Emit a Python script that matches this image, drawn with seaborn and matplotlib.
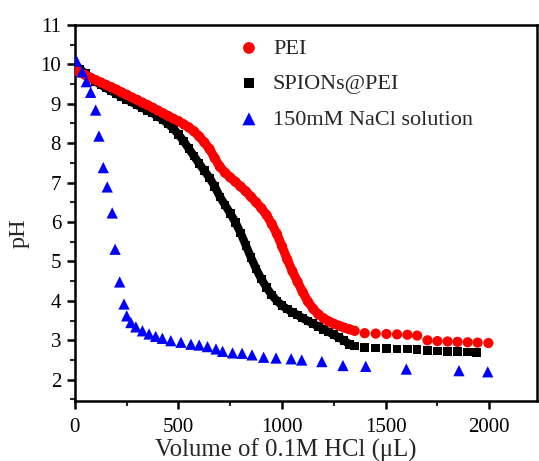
import matplotlib
matplotlib.use("Agg")
import matplotlib.pyplot as plt
from matplotlib.ticker import MultipleLocator
import seaborn as sns
import pandas as pd

# ---- data ----
# PEI: densely sampled part (drawn as a continuous band of markers) ...
pei_dense_x = [0, 25, 50, 75, 100, 125, 150, 175, 200, 225, 250, 275, 300, 325, 350, 375,
               400, 425, 450, 475, 500, 525, 550, 575, 600, 625, 650, 675, 700, 725, 750,
               775, 800, 825, 850, 875, 900, 925, 950, 975, 1000, 1025, 1050, 1075, 1100,
               1125, 1150, 1175, 1200, 1225, 1250, 1275, 1300, 1325, 1350]
pei_dense_y = [9.85, 9.79, 9.73, 9.66, 9.60, 9.54, 9.48, 9.42, 9.36, 9.29, 9.23, 9.16, 9.10,
               9.03, 8.97, 8.90, 8.83, 8.76, 8.69, 8.62, 8.56, 8.48, 8.40, 8.30, 8.17, 8.02,
               7.85, 7.62, 7.40, 7.25, 7.13, 7.02, 6.90, 6.78, 6.64, 6.50, 6.35, 6.18, 5.95,
               5.70, 5.38, 5.05, 4.75, 4.48, 4.22, 3.98, 3.80, 3.66, 3.56, 3.48, 3.42, 3.37,
               3.32, 3.28, 3.24]
# ... and separated points at the end
pei_sparse_x = [1399, 1452, 1504, 1555, 1605, 1652, 1702, 1750, 1799, 1847, 1896, 1944, 1996]
pei_sparse_y = [3.18, 3.17, 3.16, 3.15, 3.14, 3.12, 3.00, 2.98, 2.97, 2.96, 2.95, 2.94, 2.93]

spions_dense_x = [0, 25, 50, 75, 100, 125, 150, 175, 200, 225, 250, 275, 300, 325, 350, 375,
                  400, 425, 450, 475, 500, 525, 550, 575, 600, 625, 650, 675, 700, 725, 750,
                  775, 800, 825, 850, 875, 900, 925, 950, 975, 1000, 1025, 1050, 1075, 1100,
                  1125, 1150, 1175, 1200, 1225, 1250, 1275, 1300, 1325]
spions_dense_y = [10.00, 9.88, 9.76, 9.65, 9.56, 9.48, 9.40, 9.33, 9.25, 9.18, 9.11, 9.04,
                  8.97, 8.90, 8.83, 8.76, 8.68, 8.59, 8.49, 8.37, 8.22, 8.05, 7.86, 7.67, 7.48,
                  7.30, 7.12, 6.90, 6.64, 6.43, 6.22, 5.99, 5.72, 5.41, 5.10, 4.81, 4.55, 4.34,
                  4.15, 4.00, 3.88, 3.79, 3.71, 3.64, 3.56, 3.49, 3.42, 3.35, 3.28, 3.21, 3.14,
                  3.07, 2.99, 2.90]
spions_sparse_x = [1350, 1399, 1452, 1504, 1555, 1605, 1652, 1702, 1750, 1799, 1847, 1896, 1940]
spions_sparse_y = [2.85, 2.82, 2.80, 2.79, 2.78, 2.78, 2.76, 2.74, 2.73, 2.72, 2.72, 2.70, 2.69]

nacl_x = [8, 35, 55, 76, 100, 116, 137, 156, 180, 194, 216, 237, 250, 270, 294, 326,
          358, 390, 422, 463, 512, 560, 600, 640, 681, 713, 761, 807, 855, 911, 971,
          1044, 1095, 1192, 1294, 1404, 1600, 1854, 1993]
nacl_y = [10.08, 9.81, 9.56, 9.29, 8.84, 8.18, 7.38, 6.89, 6.23, 5.31, 4.48, 3.92,
          3.62, 3.45, 3.34, 3.24, 3.16, 3.10, 3.05, 2.99, 2.95, 2.90, 2.88, 2.84, 2.78,
          2.72, 2.68, 2.67, 2.63, 2.57, 2.55, 2.53, 2.50, 2.46, 2.36, 2.34, 2.27, 2.23,
          2.20]

labels = ["PEI", "SPIONs@PEI", "150mM NaCl solution"]
x_label = "Volume of 0.1M HCl (\u03bcL)"
y_label = "pH"

pei_dense = pd.DataFrame({"x": pei_dense_x, "y": pei_dense_y})
pei_all = pd.DataFrame({"x": pei_dense_x + pei_sparse_x, "y": pei_dense_y + pei_sparse_y})
sp_dense = pd.DataFrame({"x": spions_dense_x, "y": spions_dense_y})
sp_all = pd.DataFrame({"x": spions_dense_x + spions_sparse_x,
                       "y": spions_dense_y + spions_sparse_y})
nacl = pd.DataFrame({"x": nacl_x, "y": nacl_y})

RED = "#ff0000"
BLUE = "#0000ff"

sns.set_theme(style="ticks")
plt.rcParams["font.family"] = ["Liberation Serif", "DejaVu Serif"]

fig = plt.figure(figsize=(5.39, 4.61), dpi=100)
ax = fig.add_axes([0.139, 0.131, 0.857, 0.815])

# SPIONs@PEI (black squares), band of overlapping markers in dense part
sns.lineplot(data=sp_dense, x="x", y="y", ax=ax, color="black", linewidth=6.0,
             sort=False, estimator=None, zorder=2, legend=False)
ax.lines[-1].set_solid_capstyle("butt")
ax.lines[-1].set_solid_joinstyle("round")
sns.scatterplot(data=sp_all, x="x", y="y", ax=ax, marker="s", s=38,
                color="black", edgecolor="none", linewidth=0, zorder=2,
                label=labels[1])

# PEI (red circles)
sns.lineplot(data=pei_dense, x="x", y="y", ax=ax, color=RED, linewidth=6.6,
             sort=False, estimator=None, zorder=3, legend=False)
ax.lines[-1].set_solid_capstyle("round")
ax.lines[-1].set_solid_joinstyle("round")
sns.scatterplot(data=pei_all, x="x", y="y", ax=ax, marker="o", s=54,
                color=RED, edgecolor="none", linewidth=0, zorder=3,
                label=labels[0])

# NaCl (blue triangles)
sns.scatterplot(data=nacl, x="x", y="y", ax=ax, marker="^", s=66,
                color=BLUE, edgecolor="none", linewidth=0, zorder=4,
                label=labels[2])

ax.set_xlim(0, 2230)
ax.set_ylim(1.47, 11)
ax.xaxis.set_major_locator(MultipleLocator(500))
ax.xaxis.set_minor_locator(MultipleLocator(250))
ax.yaxis.set_major_locator(MultipleLocator(1))
ax.yaxis.set_minor_locator(MultipleLocator(0.5))
ax.set_yticks([2, 3, 4, 5, 6, 7, 8, 9, 10, 11])

for sp in ax.spines.values():
    sp.set_linewidth(1.8)
    sp.set_color("black")
ax.tick_params(which="major", direction="out", length=6, width=1.8,
               labelsize=15, pad=4, colors="black", top=False, right=False)
ax.tick_params(axis="x", which="major", pad=6.5)
ax.tick_params(which="minor", direction="out", length=3.5, width=1.5,
               top=False, right=False)

ax.set_xlabel(x_label, fontsize=17.8)
ax.set_ylabel(y_label, fontsize=17.5)
ax.xaxis.set_label_coords(0.457, -0.100)
ax.yaxis.set_label_coords(-0.099, 0.446)

handles, labs = ax.get_legend_handles_labels()
order = [labs.index(l) for l in labels]
leg = ax.legend([handles[i] for i in order], [labs[i] for i in order],
                loc="upper left", bbox_to_anchor=(0.319, 1.0), frameon=False,
                fontsize=16, handletextpad=0.48, labelspacing=0.67,
                markerscale=1.15, borderaxespad=0.2, handlelength=1.2)

fig.savefig("out.png", dpi=100)
